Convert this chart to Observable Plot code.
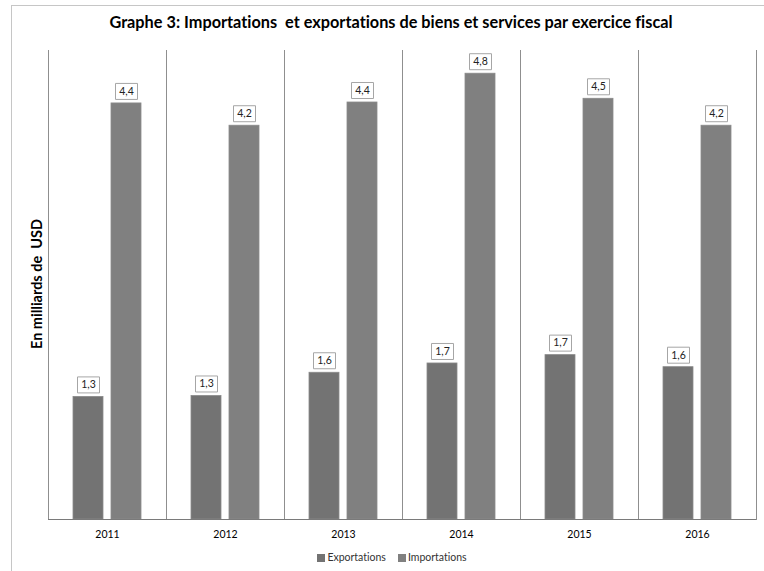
<!DOCTYPE html>
<html><head><meta charset="utf-8">
<script src="https://cdn.jsdelivr.net/npm/d3@7"></script>
<script src="https://cdn.jsdelivr.net/npm/@observablehq/plot@0.6"></script>
<style>
body{margin:0;background:#fff;font-family:Lato,"Liberation Sans",sans-serif;font-variant-ligatures:none}
#wrap{position:relative;width:764px;height:571px;overflow:hidden}
#border{position:absolute;left:11px;top:5px;width:800px;height:620px;border:1px solid #c6c6c6}
#chart{position:absolute;left:0;top:0}
#title{position:absolute;left:0;width:782px;top:12px;text-align:center;font-weight:bold;font-size:16.3px;color:#000;white-space:pre}
#ylab{position:absolute;left:36px;top:284px;transform:translate(-50%,-50%) rotate(-90deg);font-weight:bold;font-size:14.5px;white-space:pre}
#legend{position:absolute;top:551px;left:0;width:784px;display:flex;justify-content:center;gap:12px;font-size:10.5px;color:#333}
#legend span.sw{display:inline-block;width:8px;height:8px;margin-right:2px;vertical-align:-1px}
</style></head>
<body>
<div id="wrap">
  <div id="border"></div>
  <div id="chart"></div>
  <div id="title">Graphe 3: Importations  et exportations de biens et services par exercice fiscal</div>
  <div id="ylab">En milliards de  USD</div>
  <div id="legend"></div>
</div>
<script>
const years = ["2011", "2012", "2013", "2014", "2015", "2016"];
const series = ["Exportations", "Importations"];
const exportations = [1.32, 1.33, 1.58, 1.68, 1.77, 1.64];
const importations = [4.48, 4.24, 4.49, 4.80, 4.53, 4.24];
const exportLabels = ["1,3", "1,3", "1,6", "1,7", "1,7", "1,6"];
const importLabels = ["4,4", "4,2", "4,4", "4,8", "4,5", "4,2"];
const colors = ["#737373", "#808080"];

const data = [];
years.forEach((yr, i) => {
  data.push({year: yr, series: series[0], value: exportations[i], label: exportLabels[i]});
  data.push({year: yr, series: series[1], value: importations[i], label: importLabels[i]});
});

const boxSymbol = {draw(ctx) { ctx.rect(-11, -8, 22, 16); }};

const chart = Plot.plot({
  width: 764,
  height: 571,
  marginLeft: 45,
  marginRight: 6,
  marginTop: 50,
  marginBottom: 52,
  style: {fontFamily: "Lato, 'Liberation Sans', sans-serif", fontSize: "10.5px", background: "transparent", fontVariantLigatures: "none"},
  facet: {data, x: "year"},
  fx: {domain: years, padding: 0, axis: "bottom", tickSize: 0, tickPadding: 11, label: null},
  x: {domain: series, axis: null, paddingInner: 0.205, paddingOuter: 0.626},
  y: {domain: [0, 5.05], axis: null},
  color: {domain: series, range: colors},
  marks: [
    Plot.frame({anchor: "left", stroke: "#8f8f8f"}),
    Plot.frame({anchor: "right", stroke: "#8f8f8f"}),
    Plot.barY(data, {x: "series", y: "value", fill: "series", stroke: "#8a8a8a", strokeWidth: 0.8}),
    Plot.ruleY([0], {stroke: "#7a7a7a", strokeWidth: 1.2}),
    Plot.dot(data, {x: "series", y: "value", dy: -12, symbol: boxSymbol, r: 5, fill: "white", stroke: "#a6a6a6", strokeWidth: 1}),
    Plot.text(data, {x: "series", y: "value", dy: -12, text: "label", fill: "#222", fontSize: 10.5})
  ]
});
document.getElementById("chart").appendChild(chart);

const legend = document.getElementById("legend");
series.forEach((s, i) => {
  const item = document.createElement("div");
  const sw = document.createElement("span");
  sw.className = "sw";
  sw.style.background = colors[i];
  item.appendChild(sw);
  item.appendChild(document.createTextNode(s));
  legend.appendChild(item);
});
</script>
</body></html>
